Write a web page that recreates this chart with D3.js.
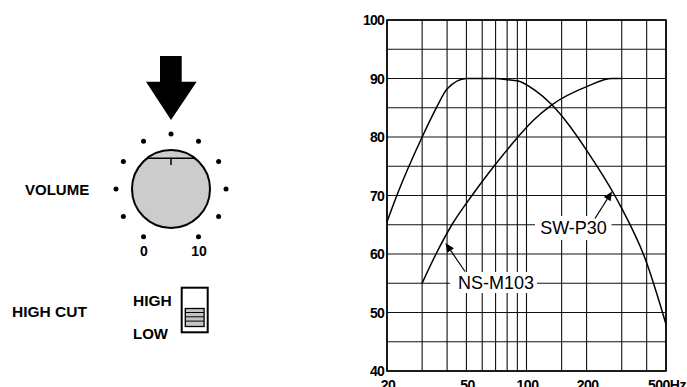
<!DOCTYPE html>
<html>
<head>
<meta charset="utf-8">
<script src="https://cdn.jsdelivr.net/npm/d3@7"></script>
<style>
  body { margin: 0; background: #fff; }
  svg { display: block; }
</style>
</head>
<body>
<div id="chart"></div>
<script>
// response curves (Hz, dB)
const swFreq = [20, 22.4, 30, 35.6, 40, 50, 60, 70, 80, 90, 110, 134, 156, 204, 277, 300, 392, 500];
const swLevel = [65.5, 70, 80, 85.2, 88.2, 90, 90, 90, 89.8, 89.6, 88, 85.5, 82.9, 77.3, 70, 67.8, 59.3, 48];
const nsFreq = [30, 35.2, 42.3, 53.3, 68.7, 90.6, 107, 134, 203, 268, 300];
const nsLevel = [55, 60, 65, 70, 75, 80, 82.7, 85.5, 88.7, 90, 90];

const freqGrid = [20, 30, 40, 50, 60, 70, 80, 90, 100, 150, 200, 300, 400, 500];
const freqLabels = [20, 50, 100, 200, 500];
const levelGrid = d3.range(40, 101, 5);
const levelLabels = [40, 50, 60, 70, 80, 90, 100];

const W = 687, H = 387;
const svg = d3.select("#chart").append("svg")
    .attr("width", W).attr("height", H);

const boldFont = "'Liberation Sans', Arial, sans-serif";

// ---------- left panel: volume knob and high cut switch ----------
const panel = svg.append("g");

// big arrow pointing at the knob
panel.append("path")
    .attr("d", "M160,56 L181.7,56 L181.7,81.7 L196.7,81.7 L171,120 L146,81.7 L160,81.7 Z")
    .attr("fill", "#000");

const knobX = 171, knobY = 189;
d3.range(-150, 151, 30).forEach(a => {
    let rad = a * Math.PI / 180;
    panel.append("circle")
        .attr("cx", knobX + 55 * Math.sin(rad))
        .attr("cy", knobY - 55 * Math.cos(rad))
        .attr("r", 2.5)
        .attr("fill", "#000");
});

panel.append("circle")
    .attr("cx", knobX).attr("cy", knobY).attr("r", 39)
    .attr("fill", "#cccccc").attr("stroke", "#000").attr("stroke-width", 2);
panel.append("line")
    .attr("x1", 147).attr("x2", 195).attr("y1", 158.3).attr("y2", 158.3)
    .attr("stroke", "#000").attr("stroke-width", 1.5);
panel.append("line")
    .attr("x1", knobX).attr("x2", knobX).attr("y1", 158.3).attr("y2", 165)
    .attr("stroke", "#000").attr("stroke-width", 1.5);

function panelText(x, y, txt, size, anchor) {
    panel.append("text")
        .attr("x", x).attr("y", y)
        .attr("text-anchor", anchor || "start")
        .style("font-family", boldFont)
        .style("font-weight", "bold")
        .style("font-size", size + "px")
        .text(txt);
}
panelText(25, 195, "VOLUME", 15);
panelText(144, 255.7, "0", 14, "middle");
panelText(199, 255.7, "10", 14, "middle");
panelText(12, 317, "HIGH CUT", 15.5);
panelText(133, 305.5, "HIGH", 15.5);
panelText(133, 339, "LOW", 15);

// slide switch
panel.append("rect")
    .attr("x", 181.7).attr("y", 287.7).attr("width", 26).attr("height", 44.6)
    .attr("fill", "#fff").attr("stroke", "#000").attr("stroke-width", 2);
panel.append("rect")
    .attr("x", 185.3).attr("y", 308.5).attr("width", 18.8).attr("height", 18)
    .attr("fill", "#c4c4c4").attr("stroke", "#000").attr("stroke-width", 1.3);
[312.5, 316.8, 321.1].forEach(y => {
    panel.append("line")
        .attr("x1", 185.3).attr("x2", 204.1).attr("y1", y).attr("y2", y)
        .attr("stroke", "#000").attr("stroke-width", 1);
});

// ---------- right: frequency response chart ----------
const x = d3.scaleLog().domain([20, 500]).range([387, 666]);
const y = d3.scaleLinear().domain([40, 100]).range([371, 20]);

const grid = svg.append("g");
freqGrid.forEach(f => {
    grid.append("line")
        .attr("x1", x(f)).attr("x2", x(f))
        .attr("y1", y(40)).attr("y2", y(100))
        .attr("stroke", "#111").attr("stroke-width", 1.1);
});
levelGrid.forEach(v => {
    grid.append("line")
        .attr("x1", x(20)).attr("x2", x(500))
        .attr("y1", y(v)).attr("y2", y(v))
        .attr("stroke", "#111").attr("stroke-width", 1.1);
});
grid.append("rect")
    .attr("x", x(20)).attr("y", y(100))
    .attr("width", x(500) - x(20)).attr("height", y(40) - y(100))
    .attr("fill", "none").attr("stroke", "#000").attr("stroke-width", 1.6);

// tick labels
levelLabels.forEach(v => {
    svg.append("text")
        .attr("x", 384).attr("y", y(v) + 5)
        .attr("text-anchor", "end")
        .style("font-family", boldFont).style("font-weight", "bold")
        .style("font-size", "14px").style("letter-spacing", "-0.8px")
        .text(v);
});
freqLabels.forEach(f => {
    svg.append("text")
        .attr("x", x(f) + 1).attr("y", 390)
        .attr("text-anchor", "middle")
        .style("font-family", boldFont).style("font-weight", "bold")
        .style("font-size", "14px").style("letter-spacing", "-0.5px")
        .text(f === 500 ? "500Hz" : f);
});

// curves
const line = d3.line()
    .x(d => x(d[0]))
    .y(d => y(d[1]))
    .curve(d3.curveMonotoneX);

svg.append("path")
    .attr("d", line(swFreq.map((f, i) => [f, swLevel[i]])))
    .attr("fill", "none").attr("stroke", "#000").attr("stroke-width", 1.5);
svg.append("path")
    .attr("d", line(nsFreq.map((f, i) => [f, nsLevel[i]])))
    .attr("fill", "none").attr("stroke", "#000").attr("stroke-width", 1.5);

// callout labels with leader arrows
function callout(label, cx, baseY, box, from, to) {
    svg.append("rect")
        .attr("x", box[0]).attr("y", box[1])
        .attr("width", box[2] - box[0]).attr("height", box[3] - box[1])
        .attr("fill", "#fff");
    svg.append("text")
        .attr("x", cx).attr("y", baseY)
        .attr("text-anchor", "middle")
        .style("font-family", "'Liberation Sans', Arial, sans-serif")
        .style("font-size", "18px")
        .text(label);
    let ang = Math.atan2(to[1] - from[1], to[0] - from[0]);
    let len = 9, half = 4;
    let bx = to[0] - len * Math.cos(ang), by = to[1] - len * Math.sin(ang);
    svg.append("line")
        .attr("x1", from[0]).attr("y1", from[1])
        .attr("x2", bx).attr("y2", by)
        .attr("stroke", "#000").attr("stroke-width", 1.2);
    svg.append("path")
        .attr("d", `M${to[0]},${to[1]} L${bx - half * Math.sin(ang)},${by + half * Math.cos(ang)} L${bx + half * Math.sin(ang)},${by - half * Math.cos(ang)} Z`)
        .attr("fill", "#000");
}

callout("SW-P30", 573.5, 234, [535, 216, 611.5, 240], [595, 218.5], [612, 191.5]);
callout("NS-M103", 496, 288.5, [450, 272, 537, 293], [465, 271.5], [445.5, 243]);
</script>
</body>
</html>
